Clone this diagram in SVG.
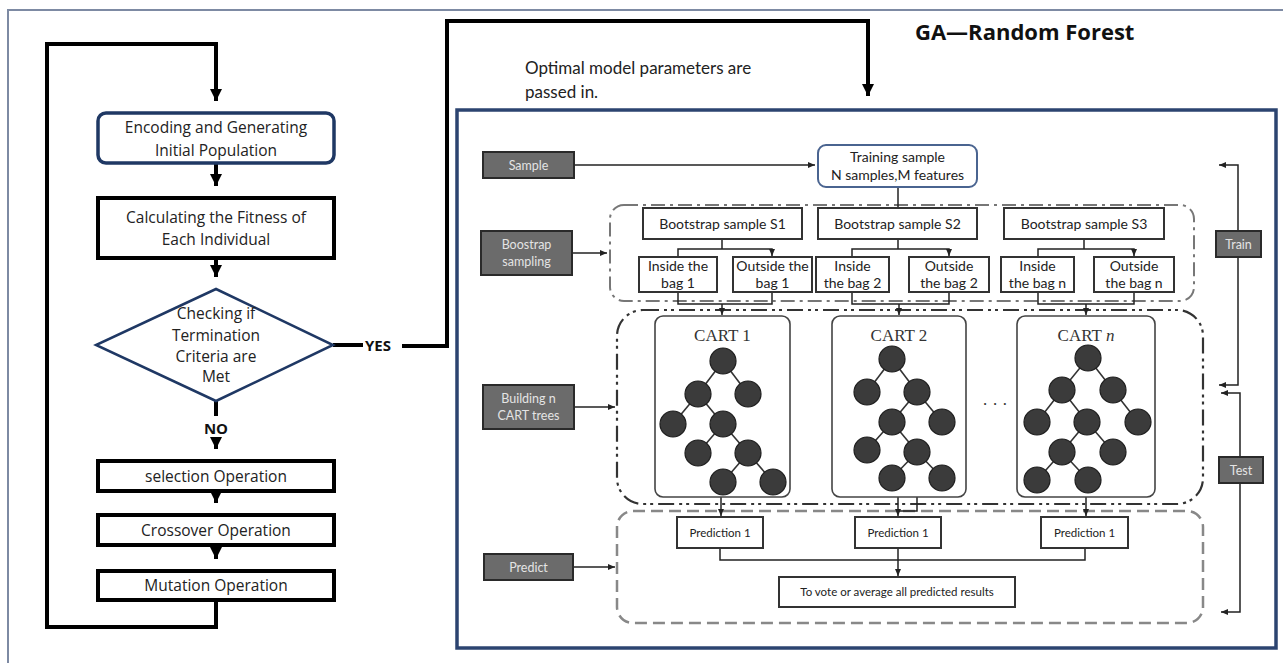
<svg xmlns="http://www.w3.org/2000/svg" width="1283" height="663" viewBox="0 0 1283 663">
  <defs>
    <marker id="bigArrow" markerUnits="userSpaceOnUse" markerWidth="14" markerHeight="14" refX="12" refY="7" orient="auto">
      <path d="M0,1 L12,7 L0,13 Z" fill="#000"/>
    </marker>
    <marker id="smallArrow" markerUnits="userSpaceOnUse" markerWidth="8" markerHeight="8" refX="7" refY="4" orient="auto">
      <path d="M0,1 L7,4 L0,7 Z" fill="#222"/>
    </marker>
    <style>
      .frame { fill: none; stroke: #7d8aa3; stroke-width: 2; }
      .flow { fill: none; stroke: #000; stroke-width: 4; }
      .ftxt { font-family: "Open Sans", "DejaVu Sans", sans-serif; font-size: 15.5px; fill: #222; text-anchor: middle; }
      .fbold { font-family: "Open Sans", "DejaVu Sans", sans-serif; font-size: 15px; font-weight: bold; fill: #111; text-anchor: middle; }
      .boxK { fill: #fff; stroke: #000; stroke-width: 4; }
      .boxN { fill: #fff; stroke: #1f3864; stroke-width: 3.5; }
      .diam { fill: #fff; stroke: #1f3864; stroke-width: 2.5; }
      .panel { fill: #fff; stroke: #2c4470; stroke-width: 3.5; }
      .title { font-family: "Open Sans", "DejaVu Sans", sans-serif; font-size: 22px; font-weight: bold; fill: #111; }
      .note { font-family: Lato, "Liberation Sans", sans-serif; font-size: 17px; fill: #222; }
      .dark { fill: #6b6b6b; stroke: #2a2a2a; stroke-width: 2; }
      .dtxt { font-family: Lato, "Liberation Sans", sans-serif; font-size: 12.5px; fill: #e4e4e4; text-anchor: middle; }
      .wbox { fill: #fff; stroke: #333; stroke-width: 2; }
      .txt { font-family: Lato, "Liberation Sans", sans-serif; font-size: 14px; fill: #222; text-anchor: middle; }
      .stxt { font-family: Lato, "Liberation Sans", sans-serif; font-size: 11.5px; fill: #222; text-anchor: middle; }
      .thin { fill: none; stroke: #222; stroke-width: 1.5; }
      .gBoot { fill: none; stroke: #777; stroke-width: 2; stroke-dasharray: 14 5 3 5; }
      .gCart { fill: none; stroke: #333; stroke-width: 2.2; stroke-dasharray: 16 5 3 4 3 5; }
      .gPred { fill: none; stroke: #888; stroke-width: 2.5; stroke-dasharray: 12 6; }
      .cart { fill: #fff; stroke: #444; stroke-width: 1.6; }
      .ctxt { font-family: "Liberation Serif", "DejaVu Serif", serif; font-size: 17px; fill: #333; text-anchor: middle; }
      .node { fill: #3b3b3b; stroke: #1e1e1e; stroke-width: 1.2; }
      .edge { stroke: #333; stroke-width: 1.6; }
    </style>
  </defs>

  <rect width="1283" height="663" fill="#fff"/>

  <!-- page frame (left and top edges) -->
  <path class="frame" d="M8,663 V10 H1283"/>

  <!-- ===== GA flowchart connectors ===== -->
  <g id="ga-connectors">
    <path class="flow" d="M216,600 V627 H47 V44 H216 V101" marker-end="url(#bigArrow)"/>
    <path class="flow" d="M216,163 V186" marker-end="url(#bigArrow)"/>
    <path class="flow" d="M216,258 V277" marker-end="url(#bigArrow)"/>
    <path class="flow" d="M216,401 V416"/>
    <path class="flow" d="M216,440 V449" marker-end="url(#bigArrow)"/>
    <path class="flow" d="M216,491 V503" marker-end="url(#bigArrow)"/>
    <path class="flow" d="M216,545 V559" marker-end="url(#bigArrow)"/>
    <path class="flow" d="M333,345 H363"/>
    <path class="flow" d="M402,346 H447 V21 H868 V96" marker-end="url(#bigArrow)"/>
    <text class="fbold" x="216" y="434">NO</text>
    <text class="fbold" x="378" y="351">YES</text>
  </g>

  <g id="ga-init">
    <rect class="boxN" x="98" y="113" width="236" height="50" rx="8"/>
    <text class="ftxt" x="216" y="133">Encoding and Generating</text>
    <text class="ftxt" x="216" y="156">Initial Population</text>
  </g>
  <g id="ga-fitness">
    <rect class="boxK" x="98" y="198" width="236" height="60"/>
    <text class="ftxt" x="216" y="223">Calculating the Fitness of</text>
    <text class="ftxt" x="216" y="245">Each Individual</text>
  </g>
  <g id="ga-check">
    <polygon class="diam" points="216,289 333,345 216,401 96,345"/>
    <text class="ftxt" x="216" y="319">Checking if</text>
    <text class="ftxt" x="216" y="341">Termination</text>
    <text class="ftxt" x="216" y="362">Criteria are</text>
    <text class="ftxt" x="216" y="382">Met</text>
  </g>
  <g id="ga-selection">
    <rect class="boxK" x="98" y="461" width="236" height="30"/>
    <text class="ftxt" x="216" y="482">selection Operation</text>
  </g>
  <g id="ga-crossover">
    <rect class="boxK" x="98" y="515" width="236" height="30"/>
    <text class="ftxt" x="216" y="536">Crossover Operation</text>
  </g>
  <g id="ga-mutation">
    <rect class="boxK" x="98" y="571" width="236" height="29"/>
    <text class="ftxt" x="216" y="591">Mutation Operation</text>
  </g>

  <!-- ===== Random forest panel ===== -->
  <text class="title" x="915" y="40">GA—Random Forest</text>
  <text class="note" x="525" y="74">Optimal model parameters are</text>
  <text class="note" x="525" y="98">passed in.</text>

  <rect id="rf-panel" class="panel" x="457" y="110" width="819" height="538"/>

  <!-- group outlines -->
  <g id="rf-groups">
    <rect class="gBoot" x="610" y="205" width="584" height="96" rx="14"/>
    <rect class="gCart" x="617" y="310" width="586" height="194" rx="26"/>
    <rect class="gPred" x="617" y="511" width="586" height="112" rx="16"/>
  </g>

  <!-- panel connectors -->
  <g id="rf-connectors">
    <path class="thin" d="M574,165 H815" marker-end="url(#smallArrow)"/>
    <path class="thin" d="M572,253 H607" marker-end="url(#smallArrow)"/>
    <path class="thin" d="M574,407 H615" marker-end="url(#smallArrow)"/>
    <path class="thin" d="M573,567 H615" marker-end="url(#smallArrow)"/>
    <path class="thin" d="M898,187 V208"/>
    <!-- bootstrap sample splits -->
    <path class="thin" d="M722,239 V249"/>
    <path class="thin" d="M678,256 V249 H772 V256" marker-start="url(#smallArrow)" marker-end="url(#smallArrow)"/>
    <path class="thin" d="M898,239 V249"/>
    <path class="thin" d="M852,256 V249 H949 V256" marker-start="url(#smallArrow)" marker-end="url(#smallArrow)"/>
    <path class="thin" d="M1084,239 V249"/>
    <path class="thin" d="M1038,256 V249 H1134 V256" marker-start="url(#smallArrow)" marker-end="url(#smallArrow)"/>
    <!-- bags into CART trees -->
    <path class="thin" d="M678,292 V304 H772 V292"/>
    <path class="thin" d="M722,304 V315" marker-end="url(#smallArrow)"/>
    <path class="thin" d="M852,292 V304 H949 V292"/>
    <path class="thin" d="M899,304 V315" marker-end="url(#smallArrow)"/>
    <path class="thin" d="M1038,292 V304 H1134 V292"/>
    <path class="thin" d="M1086,304 V315" marker-end="url(#smallArrow)"/>
    <!-- trees into predictions -->
    <path class="thin" d="M721,497 V516" marker-end="url(#smallArrow)"/>
    <path class="thin" d="M898,497 V516" marker-end="url(#smallArrow)"/>
    <path class="thin" d="M917,465 V511 H898"/>
    <path class="thin" d="M1086,497 V516" marker-end="url(#smallArrow)"/>
    <!-- predictions into vote -->
    <path class="thin" d="M720,548 V560 H1085 V548"/>
    <path class="thin" d="M898,548 V576" marker-end="url(#smallArrow)"/>
    <!-- train / test brackets -->
    <path class="thin" d="M1238,231 V165 H1219" marker-end="url(#smallArrow)"/>
    <path class="thin" d="M1238,257 V385 H1219" marker-end="url(#smallArrow)"/>
    <path class="thin" d="M1240,457 V393 H1221" marker-end="url(#smallArrow)"/>
    <path class="thin" d="M1240,483 V612 H1221" marker-end="url(#smallArrow)"/>
  </g>

  <!-- side labels -->
  <g id="rf-sample">
    <rect class="dark" x="483" y="152" width="91" height="26"/>
    <text class="dtxt" x="528.5" y="169.5">Sample</text>
  </g>
  <g id="rf-bootstrap-label">
    <rect class="dark" x="481" y="231" width="91" height="44"/>
    <text class="dtxt" x="526.5" y="249">Boostrap</text>
    <text class="dtxt" x="526.5" y="266">sampling</text>
  </g>
  <g id="rf-building-label">
    <rect class="dark" x="483" y="385" width="91" height="44"/>
    <text class="dtxt" x="528.5" y="403">Building n</text>
    <text class="dtxt" x="528.5" y="420">CART trees</text>
  </g>
  <g id="rf-predict-label">
    <rect class="dark" x="484" y="554" width="89" height="26"/>
    <text class="dtxt" x="528.5" y="571.5">Predict</text>
  </g>
  <g id="rf-train">
    <rect class="dark" x="1216" y="231" width="45" height="26"/>
    <text class="dtxt" x="1238.5" y="248.5">Train</text>
  </g>
  <g id="rf-test">
    <rect class="dark" x="1219" y="457" width="44" height="26"/>
    <text class="dtxt" x="1241" y="474.5">Test</text>
  </g>

  <g id="rf-training-sample">
    <rect x="818" y="145" width="159" height="42" rx="8" fill="#fff" stroke="#4a6490" stroke-width="2"/>
    <text class="txt" x="897.5" y="162">Training sample</text>
    <text class="txt" x="897.5" y="180">N samples,M features</text>
  </g>

  <g id="rf-s1">
    <rect class="wbox" x="643" y="208" width="159" height="31"/>
    <text class="txt" x="722.5" y="228.5">Bootstrap sample S1</text>
  </g>
  <g id="rf-s2">
    <rect class="wbox" x="818" y="208" width="159" height="31"/>
    <text class="txt" x="897.5" y="228.5">Bootstrap sample S2</text>
  </g>
  <g id="rf-s3">
    <rect class="wbox" x="1004" y="208" width="160" height="31"/>
    <text class="txt" x="1084" y="228.5">Bootstrap sample S3</text>
  </g>

  <g id="rf-in1">
    <rect class="wbox" x="639" y="257" width="78" height="35"/>
    <text class="txt" x="678" y="271">Inside the</text>
    <text class="txt" x="678" y="288">bag 1</text>
  </g>
  <g id="rf-out1">
    <rect class="wbox" x="733" y="257" width="79" height="35"/>
    <text class="txt" x="772.5" y="271">Outside the</text>
    <text class="txt" x="772.5" y="288">bag 1</text>
  </g>
  <g id="rf-in2">
    <rect class="wbox" x="816" y="257" width="73" height="35"/>
    <text class="txt" x="852.5" y="271">Inside</text>
    <text class="txt" x="852.5" y="288">the bag 2</text>
  </g>
  <g id="rf-out2">
    <rect class="wbox" x="909" y="257" width="80" height="35"/>
    <text class="txt" x="949" y="271">Outside</text>
    <text class="txt" x="949" y="288">the bag 2</text>
  </g>
  <g id="rf-inn">
    <rect class="wbox" x="1001" y="257" width="73" height="35"/>
    <text class="txt" x="1037.5" y="271">Inside</text>
    <text class="txt" x="1037.5" y="288">the bag n</text>
  </g>
  <g id="rf-outn">
    <rect class="wbox" x="1094" y="257" width="80" height="35"/>
    <text class="txt" x="1134" y="271">Outside</text>
    <text class="txt" x="1134" y="288">the bag n</text>
  </g>

  <!-- CART tree 1 -->
  <g id="rf-cart1">
    <rect class="cart" x="655" y="316" width="135" height="181" rx="8"/>
    <text class="ctxt" x="722.5" y="341">CART 1</text>
    <g class="edge">
      <line x1="723" y1="361" x2="698" y2="394"/><line x1="723" y1="361" x2="748" y2="394"/>
      <line x1="698" y1="394" x2="673" y2="424"/><line x1="698" y1="394" x2="723" y2="424"/>
      <line x1="723" y1="424" x2="698" y2="453"/><line x1="723" y1="424" x2="748" y2="453"/>
      <line x1="748" y1="453" x2="723" y2="482"/><line x1="748" y1="453" x2="773" y2="482"/>
    </g>
    <g class="node">
      <circle cx="723" cy="361" r="13"/><circle cx="698" cy="394" r="13"/><circle cx="748" cy="394" r="13"/>
      <circle cx="673" cy="424" r="13"/><circle cx="723" cy="424" r="13"/><circle cx="698" cy="453" r="13"/>
      <circle cx="748" cy="453" r="13"/><circle cx="723" cy="482" r="13"/><circle cx="773" cy="482" r="13"/>
    </g>
  </g>

  <!-- CART tree 2 -->
  <g id="rf-cart2">
    <rect class="cart" x="832" y="316" width="134" height="181" rx="8"/>
    <text class="ctxt" x="899" y="341">CART 2</text>
    <g class="edge">
      <line x1="892" y1="359" x2="867" y2="392"/><line x1="892" y1="359" x2="917" y2="392"/>
      <line x1="917" y1="392" x2="892" y2="422"/><line x1="917" y1="392" x2="942" y2="422"/>
      <line x1="892" y1="422" x2="867" y2="450"/><line x1="892" y1="422" x2="917" y2="452"/>
      <line x1="917" y1="452" x2="892" y2="478"/><line x1="917" y1="452" x2="942" y2="478"/>
    </g>
    <g class="node">
      <circle cx="892" cy="359" r="13"/><circle cx="867" cy="392" r="13"/><circle cx="917" cy="392" r="13"/>
      <circle cx="892" cy="422" r="13"/><circle cx="942" cy="422" r="13"/><circle cx="867" cy="450" r="13"/>
      <circle cx="917" cy="452" r="13"/><circle cx="892" cy="478" r="13"/><circle cx="942" cy="478" r="13"/>
    </g>
  </g>

  <text class="ctxt" x="995" y="410">· · ·</text>

  <!-- CART tree n -->
  <g id="rf-cartn">
    <rect class="cart" x="1017" y="316" width="138" height="181" rx="8"/>
    <text class="ctxt" x="1086" y="341">CART <tspan font-style="italic">n</tspan></text>
    <g class="edge">
      <line x1="1088" y1="358" x2="1062" y2="390"/><line x1="1088" y1="358" x2="1113" y2="390"/>
      <line x1="1062" y1="390" x2="1037" y2="422"/><line x1="1062" y1="390" x2="1087" y2="422"/>
      <line x1="1113" y1="390" x2="1138" y2="422"/>
      <line x1="1087" y1="422" x2="1062" y2="452"/><line x1="1087" y1="422" x2="1113" y2="452"/>
      <line x1="1062" y1="452" x2="1037" y2="480"/><line x1="1062" y1="452" x2="1088" y2="480"/>
    </g>
    <g class="node">
      <circle cx="1088" cy="358" r="13"/><circle cx="1062" cy="390" r="13"/><circle cx="1113" cy="390" r="13"/>
      <circle cx="1037" cy="422" r="13"/><circle cx="1087" cy="422" r="13"/><circle cx="1138" cy="422" r="13"/>
      <circle cx="1062" cy="452" r="13"/><circle cx="1113" cy="452" r="13"/>
      <circle cx="1037" cy="480" r="13"/><circle cx="1088" cy="480" r="13"/>
    </g>
  </g>

  <g id="rf-pred1">
    <rect class="wbox" x="677" y="517" width="86" height="31"/>
    <text class="stxt" x="720" y="536.5">Prediction 1</text>
  </g>
  <g id="rf-pred2">
    <rect class="wbox" x="855" y="517" width="86" height="31"/>
    <text class="stxt" x="898" y="536.5">Prediction 1</text>
  </g>
  <g id="rf-pred3">
    <rect class="wbox" x="1041" y="517" width="87" height="31"/>
    <text class="stxt" x="1084.5" y="536.5">Prediction 1</text>
  </g>
  <g id="rf-vote">
    <rect class="wbox" x="779" y="577" width="236" height="30"/>
    <text class="stxt" x="897" y="596">To vote or average all predicted results</text>
  </g>
</svg>
